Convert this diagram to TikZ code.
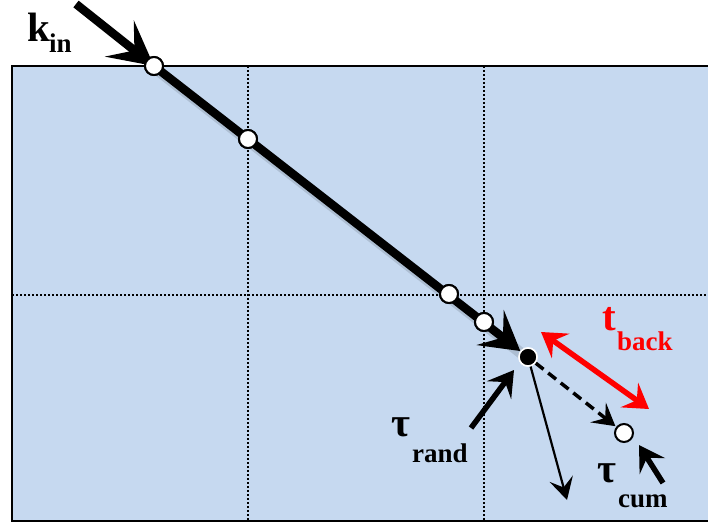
\documentclass[tikz,border=0pt]{standalone}
\usepackage{fontspec}
\setmainfont{Liberation Serif}
\usetikzlibrary{arrows.meta}
\definecolor{panel}{HTML}{C6D9F0}
\tikzset{
  big/.style={font=\fontsize{41}{44}\selectfont\bfseries, inner sep=0pt, anchor=base west},
  small/.style={font=\fontsize{27}{30}\selectfont\bfseries, inner sep=0pt, anchor=base west},
  wcirc/.style={circle, fill=white, draw=black, line width=2pt, minimum size=18pt, inner sep=0pt},
  bcirc/.style={circle, fill=black, draw=white, line width=1.5pt, minimum size=18pt, inner sep=0pt},
  grid/.style={line width=1.5pt, dash pattern=on 2pt off 2pt},
  beam/.style={line width=8.5pt},
  shade/.style={line width=11pt, black, opacity=0.12, line cap=round},
}
\begin{document}
\begin{tikzpicture}[x=1pt,y=-1pt]
\useasboundingbox (0,0) rectangle (708,524);
\fill[panel] (12,66) rectangle (712,521);
\draw[line width=2pt] (712,66) -- (12,66) -- (12,521) -- (712,521);
\draw[grid] (248,66) -- (248,521);
\draw[grid] (484,66) -- (484,521);
\draw[grid] (12,295) -- (712,295);

\coordinate (s) at (76,4);
\node[wcirc] (c1) at (154,66) {};
\node[wcirc] (c2) at (248,139) {};
\node[wcirc] (c3) at (449,294) {};
\node[wcirc] (c4) at (484,322) {};
\node[bcirc] (d) at (528,357) {};
\node[wcirc] (e) at (624,433) {};
\coordinate (t1) at (567,500);
\coordinate (r0) at (471,428);
\coordinate (r1) at (514,370);
\coordinate (q0) at (663,483);
\coordinate (q1) at (639,445);
\coordinate (b0) at (541,332);
\coordinate (b1) at (649,409);

\draw[shade, shift={(2pt,-3pt)}] (154,66) -- (524,354);
\draw[beam, -{Stealth[length=44pt, width=46pt, inset=19pt]}] (s) -- (c1.center);
\draw[beam, -{Stealth[length=38pt, width=44pt, inset=16pt]}] (c1.center) -- (d);
\draw[line width=3.5pt, dash pattern=on 10pt off 6pt, -{Stealth[length=22pt, width=25pt, inset=9pt]}, shorten >=1pt] (d) -- (e);
\draw[line width=2.2pt, -{Stealth[length=22pt, width=24pt, inset=9pt]}] (d) -- (t1);
\draw[line width=5.5pt, -{Stealth[length=25pt, width=30pt, inset=10pt]}] (r0) -- (r1);
\draw[line width=5.5pt, -{Stealth[length=25pt, width=30pt, inset=10pt]}] (q0) -- (q1);
\draw[red, line width=5.5pt, {Stealth[length=24pt, width=30pt, inset=9pt]}-{Stealth[length=24pt, width=30pt, inset=9pt]}] (b0) -- (b1);

\node[wcirc] at (c1) {};
\node[wcirc] at (c2) {};
\node[wcirc] at (c3) {};
\node[wcirc] at (c4) {};
\node[bcirc] at (d) {};

\node[big] (k) at (27,42) {k};
\node[small] (kin) at (49,53) {in};
\node[big, red] (tb) at (602,330) {t};
\node[small, red] (tbs) at (617,350) {back};
\node[big] (tr) at (391,436) {τ};
\node[small] (trs) at (412,462) {rand};
\node[big] (tc) at (597,482) {τ};
\node[small] (tcs) at (618,507) {cum};
\end{tikzpicture}
\end{document}
